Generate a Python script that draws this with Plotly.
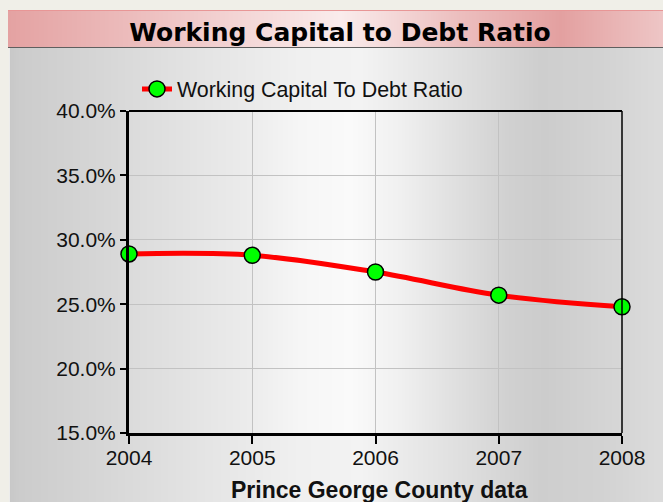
import base64
import struct
import zlib

import plotly.graph_objects as go

# ---------------- data ----------------
years = [2004, 2005, 2006, 2007, 2008]
ratio_pct = [28.9, 28.8, 27.5, 25.7, 24.8]
series_name = "Working Capital To Debt Ratio"
chart_title = "Working Capital to Debt Ratio"
x_title = "Prince George County data"
y_ticks = [15, 20, 25, 30, 35, 40]
y_tick_text = ["15.0%", "20.0%", "25.0%", "30.0%", "35.0%", "40.0%"]

# ---------------- geometry / style ----------------
W, H = 663, 502
L, R, T, B = 129, 41, 111, 69
PW, PH = W - L - R, H - T - B


def interp(stops, x):
    for (x0, c0), (x1, c1) in zip(stops, stops[1:]):
        if x0 <= x <= x1:
            f = (x - x0) / (x1 - x0) if x1 != x0 else 0
            return tuple(int(round(a + (b - a) * f)) for a, b in zip(c0, c1))
    return stops[0][1] if x < stops[0][0] else stops[-1][1]


def g(v):
    return (v, v, v)


outer = (240, 239, 232)
panel_stops = [(9, g(200)), (20, g(204)), (100, g(214)), (200, g(228)), (300, g(240)), (360, g(243)),
               (450, g(225)), (540, g(206)), (600, g(210)), (663, g(220))]
plot_stops = [(129, g(219)), (250, g(236)), (300, g(246)), (350, g(250)), (400, g(240)), (460, g(222)),
              (510, g(208)), (545, g(204)), (622, g(215))]
title_stops = [(8, (228, 162, 162)), (130, (236, 188, 188)), (340, (250, 236, 236)),
               (460, (236, 190, 190)), (560, (227, 160, 160)), (663, (238, 198, 198))]


def row(fn):
    return bytes(b for x in range(W) for b in fn(x))


outer_row = row(lambda x: outer)
title_top = row(lambda x: (232, 150, 150) if x >= 8 else outer)
title_mid = row(lambda x: interp(title_stops, x) if x >= 8 else outer)
title_bot = row(lambda x: (95, 95, 95) if x >= 8 else outer)
panel_row = row(lambda x: outer if x < 9 else ((236, 236, 236) if x == 9 else interp(panel_stops, x)))
plot_row = row(lambda x: outer if x < 9 else ((236, 236, 236) if x == 9 else
                                              (interp(plot_stops, x) if L <= x <= L + PW else interp(panel_stops, x))))

rows = []
for y in range(H):
    if y < 10:
        rows.append(outer_row)
    elif y == 10:
        rows.append(title_top)
    elif y < 47:
        rows.append(title_mid)
    elif y == 47:
        rows.append(title_bot)
    elif T <= y <= T + PH:
        rows.append(plot_row)
    else:
        rows.append(panel_row)


def png_uri(rows, w, h):
    raw = b"".join(b"\x00" + r for r in rows)

    def chunk(tag, data):
        c = struct.pack(">I", len(data)) + tag + data
        return c + struct.pack(">I", zlib.crc32(tag + data) & 0xFFFFFFFF)

    png = b"\x89PNG\r\n\x1a\n" + chunk(b"IHDR", struct.pack(">IIBBBBB", w, h, 8, 2, 0, 0, 0)) \
        + chunk(b"IDAT", zlib.compress(raw, 9)) + chunk(b"IEND", b"")
    return "data:image/png;base64," + base64.b64encode(png).decode()


bg_uri = png_uri(rows, W, H)

FONT = "Liberation Sans, Arial, sans-serif"

fig = go.Figure()
fig.add_trace(go.Scatter(
    x=years, y=ratio_pct, name=series_name, mode="lines+markers",
    line=dict(color="#ff0000", width=5, shape="spline", smoothing=1),
    marker=dict(color="#00ff00", size=16, line=dict(color="#000000", width=1.5)),
    cliponaxis=False,
))

fig.update_layout(
    width=W, height=H,
    margin=dict(l=L, r=R, t=T, b=B),
    paper_bgcolor=f"rgb{outer}", plot_bgcolor="rgba(0,0,0,0)",
    font=dict(family=FONT, size=21, color="#111111"),
    title=dict(text=f"<b>{chart_title}</b>", x=340 / W, xanchor="center", y=1 - 32 / H, yanchor="middle",
               font=dict(family="DejaVu Sans, sans-serif", size=25, color="#000000")),
    showlegend=True,
    legend=dict(x=8 / PW, xanchor="left", y=(H - B - 89) / PH, yanchor="middle", bgcolor="rgba(0,0,0,0)",
                font=dict(family=FONT, size=21.4, color="#111111")),
    images=[dict(source=bg_uri, xref="paper", yref="paper", x=-L / PW, y=(PH + T) / PH,
                 sizex=W / PW, sizey=H / PH, xanchor="left", yanchor="top", sizing="stretch",
                 layer="below")],
    shapes=[
        dict(type="line", xref="paper", yref="paper", x0=0, x1=1, y0=1, y1=1,
             line=dict(color="#000000", width=2), layer="above"),
        dict(type="line", xref="paper", yref="paper", x0=1, x1=1, y0=0, y1=1,
             line=dict(color="#000000", width=1.5), layer="above"),
    ],
    annotations=[dict(text=f"<b>{x_title}</b>", xref="paper", yref="paper", x=(379 - L) / PW,
                      y=(H - B - 490) / PH, xanchor="center", yanchor="middle", showarrow=False,
                      font=dict(family=FONT, size=23, color="#111111"))],
)

fig.update_xaxes(
    range=[years[0], years[-1]], tickvals=years, ticktext=[str(v) for v in years],
    showline=True, linecolor="#000000", linewidth=3, ticks="outside", ticklen=8, tickwidth=1.5,
    tickcolor="#000000", showgrid=True, gridcolor="#c2c2c2", gridwidth=1, zeroline=False,
    layer="above traces", tickfont=dict(size=21), automargin=False, ticklabelstandoff=-4,
)
fig.update_yaxes(
    range=[y_ticks[0], y_ticks[-1]], tickvals=y_ticks, ticktext=y_tick_text,
    showline=True, linecolor="#000000", linewidth=3, ticks="outside", ticklen=6, tickwidth=1.5,
    tickcolor="#000000", showgrid=True, gridcolor="#c2c2c2", gridwidth=1, zeroline=False,
    layer="above traces", tickfont=dict(size=21), ticklabelstandoff=0, automargin=False,
)

fig.write_html("out.html", config={"displayModeBar": False},
               post_script="document.body.style.margin='0';document.body.style.overflow='hidden';")
